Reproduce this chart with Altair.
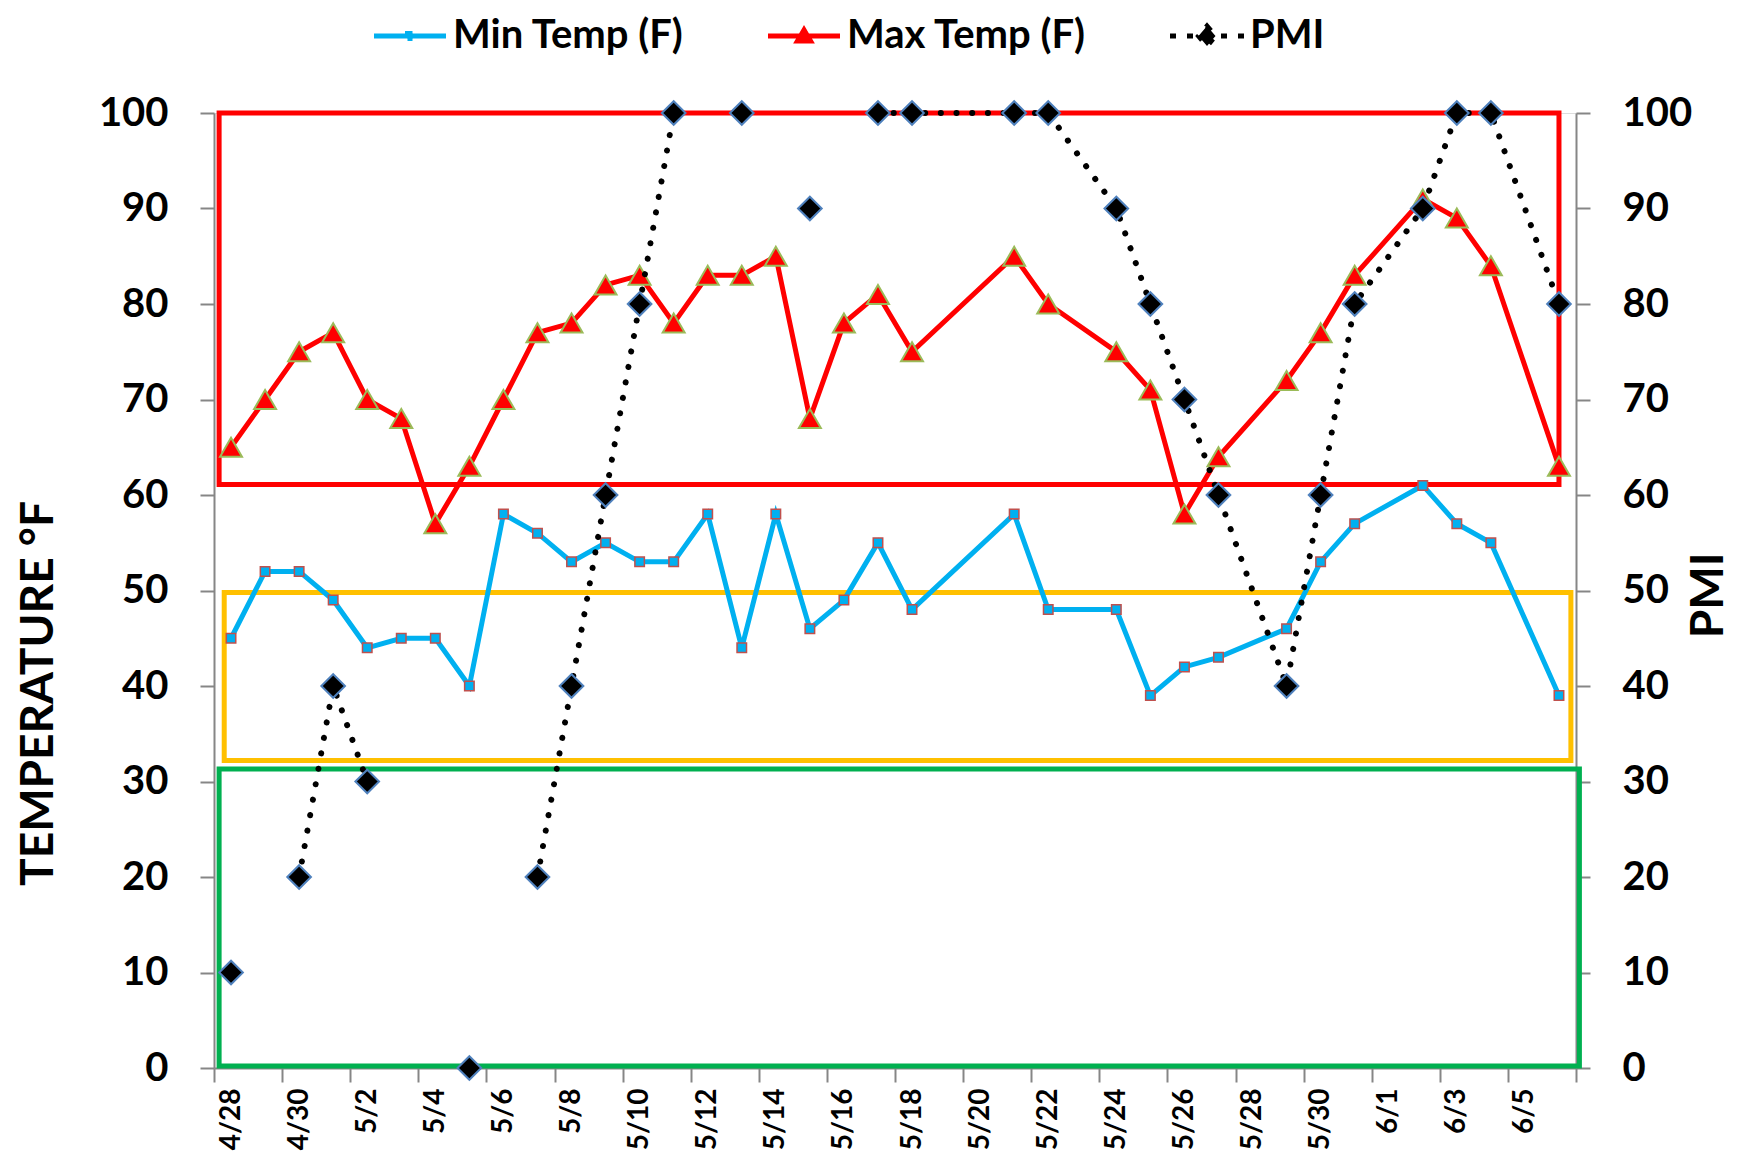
import altair as alt
import pandas as pd

# ---------------- data ----------------
dates = ["4/28", "4/29", "4/30", "5/1", "5/2", "5/3", "5/4", "5/5", "5/6", "5/7",
         "5/8", "5/9", "5/10", "5/11", "5/12", "5/13", "5/14", "5/15", "5/16", "5/17",
         "5/18", "5/21", "5/22", "5/24", "5/25", "5/26", "5/27", "5/29", "5/30", "5/31",
         "6/2", "6/3", "6/4", "6/6"]
min_temp = [45, 52, 52, 49, 44, 45, 45, 40, 58, 56,
            53, 55, 53, 53, 58, 44, 58, 46, 49, 55,
            48, 58, 48, 48, 39, 42, 43, 46, 53, 57,
            61, 57, 55, 39]
max_temp = [65, 70, 75, 77, 70, 68, 57, 63, 70, 77,
            78, 82, 83, 78, 83, 83, 85, 68, 78, 81,
            75, 85, 80, 75, 71, 58, 64, 72, 77, 83,
            91, 89, 84, 63]
pmi = [10, None, 20, 40, 30, None, None, 0, None, 20,
       40, 60, 80, 100, None, 100, None, 90, None, 100,
       100, 100, 100, 90, 80, 70, 60, 40, 60, 80,
       90, 100, 100, 80]

# date-axis tick labels (one every 2 days, first day 4/28, axis ends 6/7)
x_tick_labels = ["4/28", "4/30", "5/2", "5/4", "5/6", "5/8", "5/10", "5/12", "5/14", "5/16",
                 "5/18", "5/20", "5/22", "5/24", "5/26", "5/28", "5/30", "6/1", "6/3", "6/5"]
x_days = 40
y_ticks = [0, 10, 20, 30, 40, 50, 60, 70, 80, 90, 100]

series_names = ["Min Temp (F)", "Max Temp (F)", "PMI"]
series_colors = ["#00B0F0", "#FF0000", "#000000"]

# threshold boxes: colour, start/end (days after 4/28), low/high (deg F)
box_colors = ["#00B050", "#FFC000", "#FF0000"]
box_start = [0.15, 0.3, 0.15]
box_end = [40.1, 39.85, 39.5]
box_low = [0.2, 32.2, 61.1]
box_high = [31.3, 49.8, 100]

YEAR = 2013
GRAY = "#868686"
FONT = "Lato"


def ts(md):
    m, d = md.split("/")
    return pd.Timestamp(year=YEAR, month=int(m), day=int(d))


start = ts(x_tick_labels[0])
# position of each observation = day index after 4/28, centred in its day
day_pos = [(ts(d) - start).days + 0.5 for d in dates]

df = pd.DataFrame({
    "day": day_pos,
    "date": dates,
    "min": min_temp,
    "max": max_temp,
    "pmi": pmi,
})

boxes_df = pd.DataFrame({
    "color": box_colors,
    "x0": box_start,
    "x1": box_end,
    "lo": box_low,
    "hi": box_high,
})

label_array = "[" + ",".join(f"'{l}'" for l in x_tick_labels) + "]"

x_scale = alt.Scale(domain=[0, x_days], nice=False, zero=False)
y_scale = alt.Scale(domain=[0, 100], nice=False, zero=False)

# the same x axis definition is given to every layer so the merged axis stays enabled
x_axis = alt.Axis(
    orient="bottom",
    tickCount=x_days // 2,
    labelExpr=f"{label_array}[round(datum.value / 2)] || ''",
    labelAngle=270, labelOffset=17, labelPadding=6, labelFlush=False, labelOverlap=False,
    labelFont=FONT, labelFontSize=28, labelFontWeight="bold", labelColor="black",
    tickSize=14, tickWidth=2, tickColor=GRAY,
    domainColor=GRAY, domainWidth=2, grid=False, title=None,
)

common_y = dict(
    values=y_ticks, grid=False,
    labelFont=FONT, labelFontSize=40, labelFontWeight="bold", labelColor="black",
    labelPadding=32,
    tickSize=14, tickWidth=2, tickColor=GRAY,
    domainColor=GRAY, domainWidth=2,
    titleFont=FONT, titleFontSize=46, titleFontWeight="bold", titleColor="black",
    titleAngle=270, titleAlign="center", titleBaseline="middle",
)
left_axis = alt.Axis(orient="left", title="TEMPERATURE °F", titleX=-176, titleY=580, **common_y)
right_axis = alt.Axis(orient="right", title="PMI", titleX=132, titleY=482, **common_y)

base = alt.Chart(df)


def xq(field):
    return alt.X(field, type="quantitative", scale=x_scale, axis=x_axis)


boxes = alt.Chart(boxes_df).mark_rect(fillOpacity=0, strokeWidth=5).encode(
    x=xq("x0"),
    x2="x1:Q",
    y=alt.Y("lo:Q", scale=y_scale, axis=None),
    y2="hi:Q",
    stroke=alt.Stroke("color:N", scale=None),
)

min_line = base.mark_line(color="#00B0F0", strokeWidth=5).encode(
    x=xq("day"),
    y=alt.Y("min:Q", scale=y_scale, axis=left_axis),
)
min_pts = base.mark_point(shape="square", filled=True, fill="#00B0F0", stroke="#C0504D",
                          strokeWidth=1.5, size=90, opacity=1).encode(
    x=xq("day"),
    y=alt.Y("min:Q", scale=y_scale, axis=None),
)
max_line = base.mark_line(color="#FF0000", strokeWidth=5).encode(
    x=xq("day"),
    y=alt.Y("max:Q", scale=y_scale, axis=None),
)
max_pts = base.mark_point(shape="triangle-up", filled=True, fill="#FF0000", stroke="#9BBB59",
                          strokeWidth=2, size=480, opacity=1).encode(
    x=xq("day"),
    y=alt.Y("max:Q", scale=y_scale, axis=None),
)
pmi_line = base.mark_line(color="black", strokeWidth=6, strokeDash=[0.1, 15.6], strokeCap="round",
                          invalid="break-paths-filter-domains").encode(
    x=xq("day"),
    y=alt.Y("pmi:Q", scale=y_scale, axis=right_axis),
)
pmi_pts = base.mark_point(shape="diamond", filled=True, fill="black", stroke="#4F81BD",
                          strokeWidth=2, size=560, opacity=1).encode(
    x=xq("day"),
    y=alt.Y("pmi:Q", scale=y_scale, axis=None),
)

# legend (custom line+marker symbols)
legend_paths = [
    "M-3.6,0H3.6M-0.25,-0.25H0.25V0.25H-0.25Z",
    "M-3.6,0H3.6M0,-0.6L0.65,0.5H-0.65Z",
    "M-3.7,0H3.7M0,-1L0.85,0L0,1L-0.85,0Z",
]
legend_dash = [[1, 0], [1, 0], [6, 11]]
legend_df = pd.DataFrame({"series": series_names})
leg = alt.Legend(
    orient="none", legendX=160, legendY=-97, direction="horizontal", title=None,
    labelFont=FONT, labelFontSize=40, labelFontWeight="bold", labelColor="black",
    labelLimit=600, symbolSize=400, symbolStrokeWidth=5, symbolOffset=16,
    labelOffset=23, columnPadding=73, padding=0, symbolOpacity=1,
)
legend_layer = alt.Chart(legend_df).mark_point(filled=True, opacity=1).encode(
    fill=alt.Fill("series:N", scale=alt.Scale(domain=series_names, range=series_colors), legend=leg),
    stroke=alt.Stroke("series:N", scale=alt.Scale(domain=series_names, range=series_colors), legend=leg),
    shape=alt.Shape("series:N", scale=alt.Scale(domain=series_names, range=legend_paths), legend=leg),
    strokeDash=alt.StrokeDash("series:N", scale=alt.Scale(domain=series_names, range=legend_dash), legend=leg),
).transform_filter("false")

chart = alt.layer(
    boxes, min_line, min_pts, max_line, max_pts, pmi_line, pmi_pts, legend_layer
).resolve_axis(y="independent").properties(
    width=1362, height=955,
    autosize=alt.AutoSizeParams(type="none"),
    padding={"left": 206, "top": 105, "right": 164, "bottom": 86},
    background="white",
).configure_view(stroke=None).configure(font=FONT)

chart.save("out.html", embed_options={"renderer": "svg", "actions": False})
